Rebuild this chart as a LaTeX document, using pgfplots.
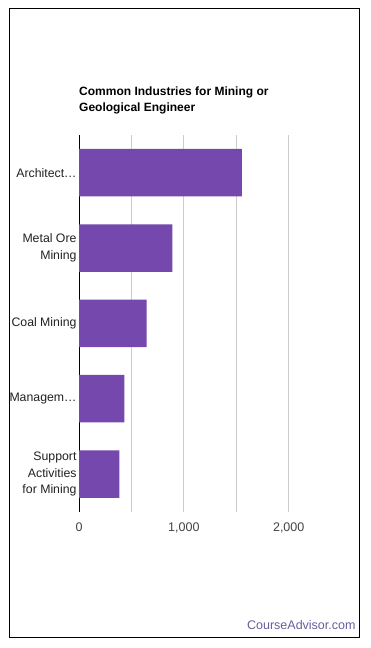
\documentclass[border=0pt]{standalone}
\usepackage{pgfplots}
\pgfplotsset{compat=1.18}
\usepackage{fontspec}
\setmainfont{Liberation Sans}
\definecolor{barc}{RGB}{116,72,173}
\definecolor{gridc}{RGB}{204,204,204}
\definecolor{tickc}{RGB}{68,68,68}
\definecolor{labc}{RGB}{34,34,34}
\definecolor{brand}{RGB}{108,92,160}
\begin{document}
\begin{tikzpicture}[x=1pt,y=1pt]
\fill[white] (0,0) rectangle (370,648);
\draw[black, line width=1pt] (9,10) rectangle (359,639);
\node[anchor=base west, inner sep=0pt, font=\bfseries\fontsize{12}{16}\selectfont, text=black] at (79,552.3) {Common Industries for Mining or};
\node[anchor=base west, inner sep=0pt, font=\bfseries\fontsize{12}{16}\selectfont, text=black] at (79,536.3) {Geological Engineer};
\node[anchor=base east, inner sep=0pt, font=\fontsize{12.5}{15}\selectfont, text=brand] at (355.7,18.5) {CourseAdvisor.com};
\begin{axis}[
  at={(79pt,136.3pt)}, anchor=south west,
  scale only axis, width=209.7pt, height=376.7pt,
  xmin=0, xmax=2000, ymin=-0.5, ymax=4.5, y dir=reverse,
  xbar, bar width=47.5pt,
  xtick={0,1000,2000}, minor xtick={500,1500},
  xmajorgrids, xminorgrids,
  major grid style={gridc, line width=0.8pt},
  minor grid style={gridc, line width=0.8pt},
  major tick length=0pt, minor tick length=0pt,
  axis x line*=bottom, axis y line*=left,
  x axis line style={draw=none},
  y axis line style={draw=black, line width=0.8pt},
  /pgf/number format/assume math mode=true,
  /pgf/number format/1000 sep={,},
  xticklabel style={anchor=north, inner sep=0pt, yshift=-10.7pt, font=\fontsize{12.5}{15}\selectfont, text=tickc},
  ytick={0,1,2,3,4},
  yticklabels={Architect\dots,{Metal Ore\\Mining},Coal Mining,Managem\dots,{Support\\Activities\\for Mining}},
  yticklabel style={align=right, inner sep=0pt, xshift=-2.3pt, font=\fontsize{12.3}{16.7}\selectfont, text=labc},
]
\addplot[fill=barc, draw=none] coordinates {(1554,0) (891,1) (646,2) (433,3) (385,4)};
\end{axis}
\end{tikzpicture}
\end{document}
